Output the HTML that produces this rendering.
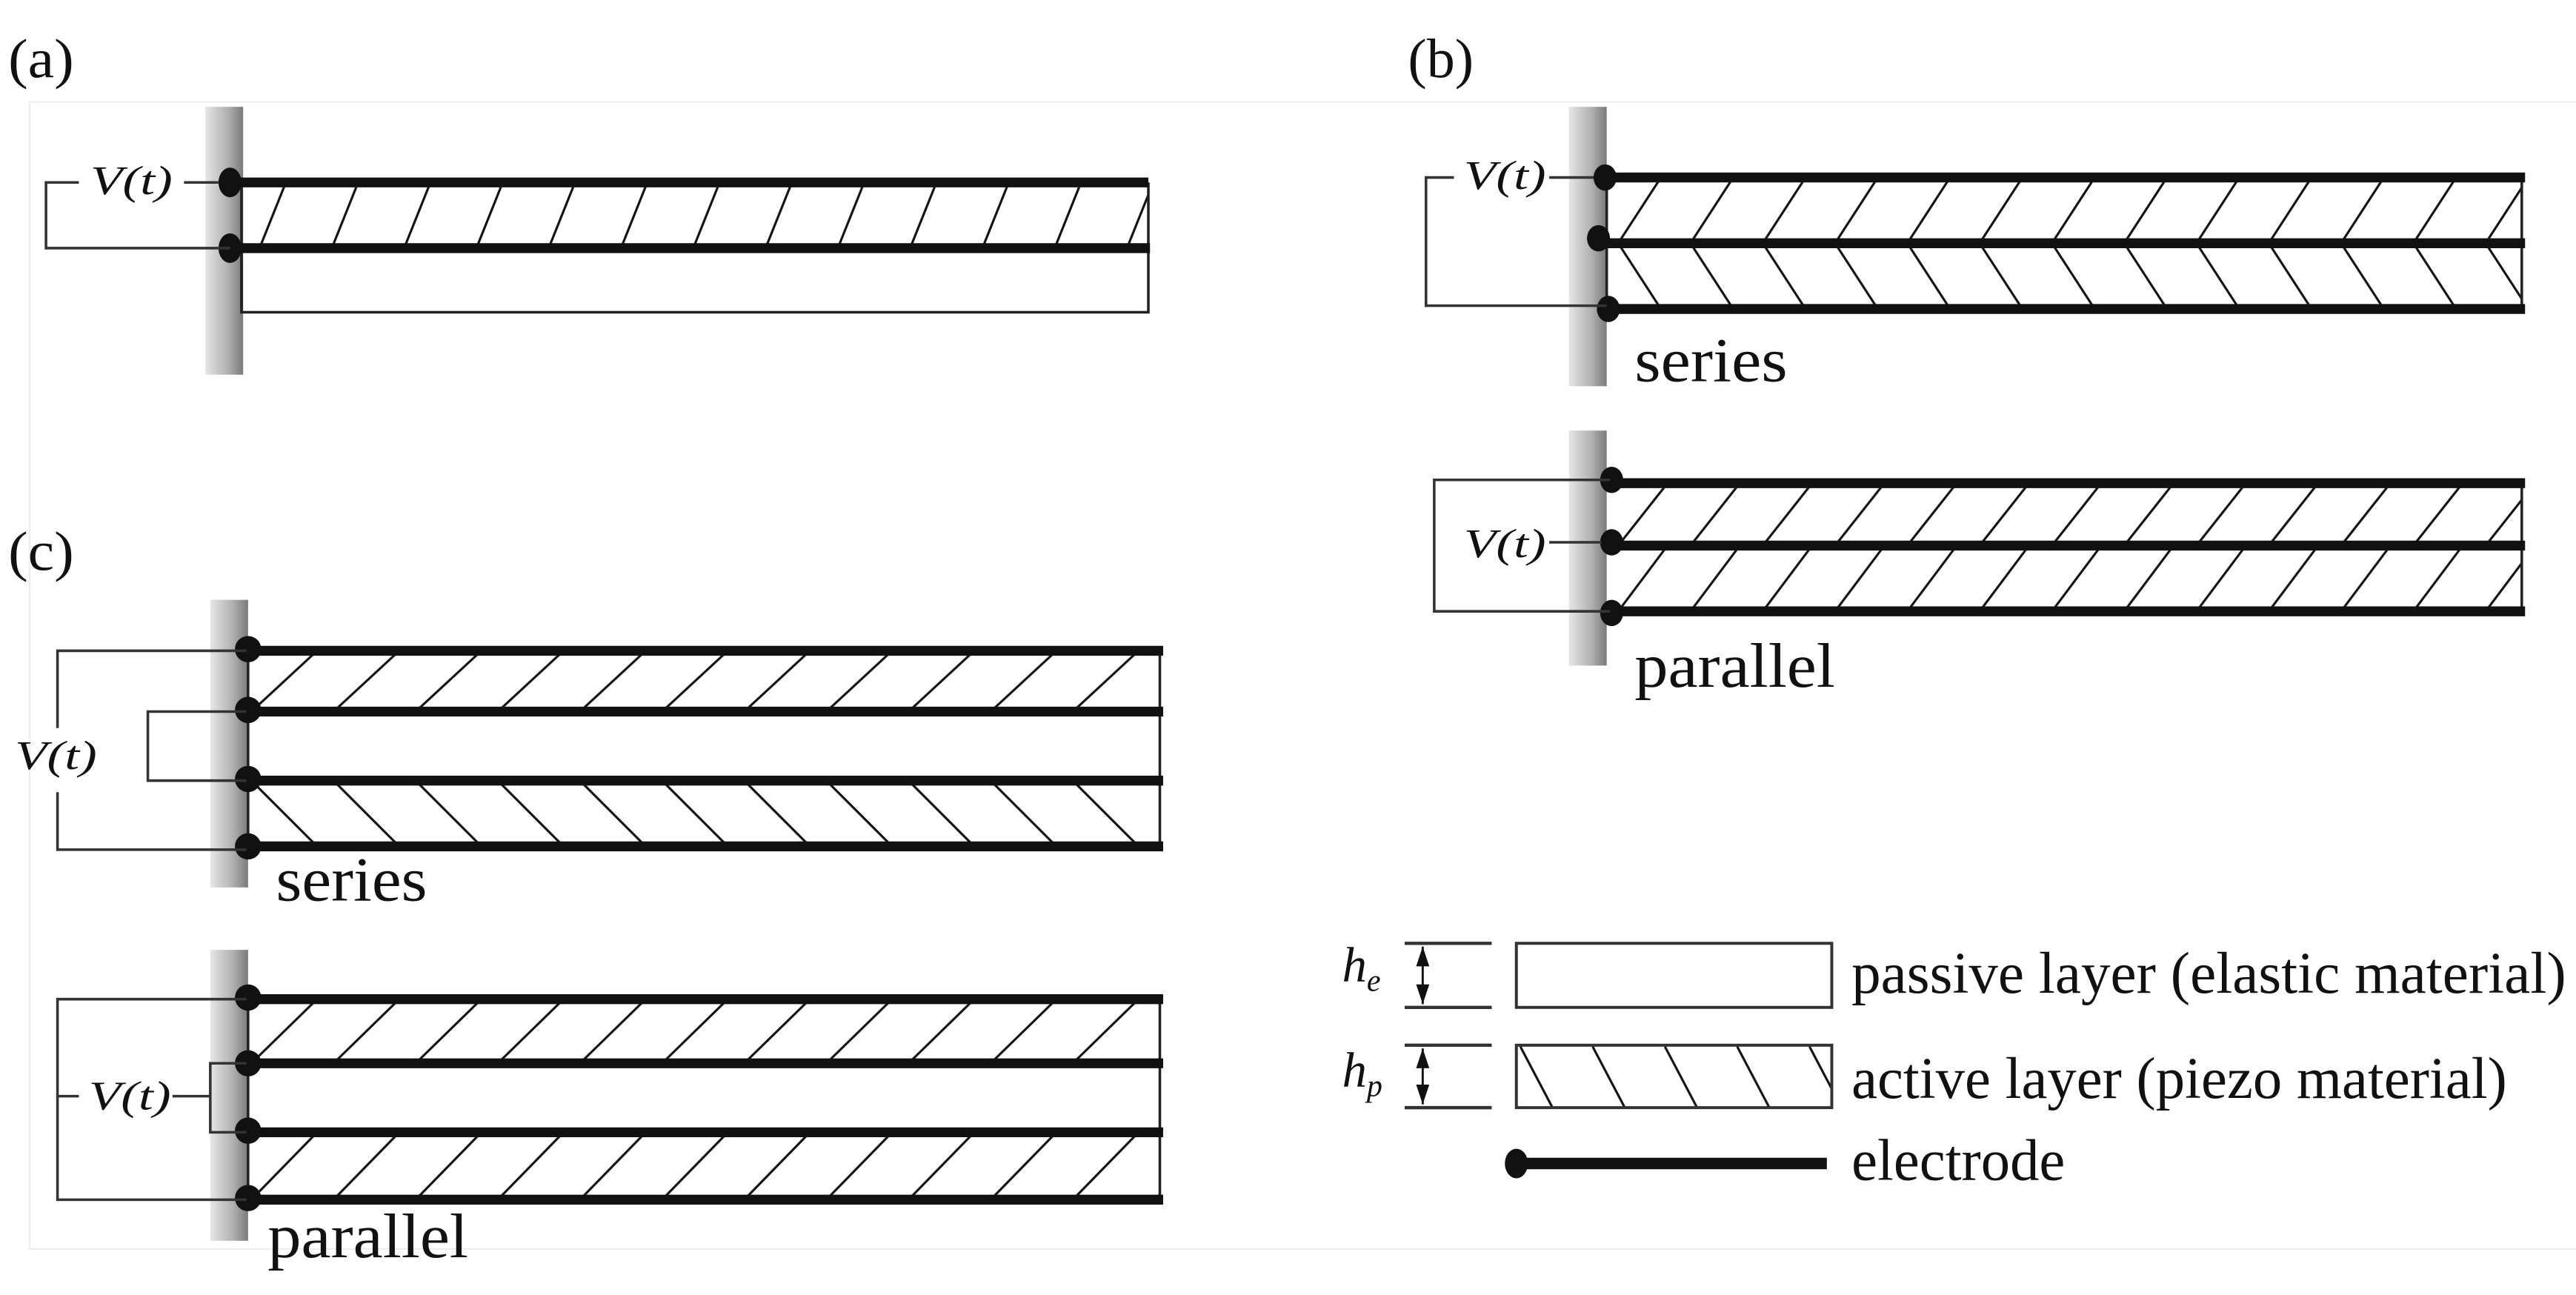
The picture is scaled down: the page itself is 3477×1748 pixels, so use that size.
<!DOCTYPE html>
<html><head><meta charset="utf-8"><style>html,body{margin:0;padding:0;background:#fff}svg{display:block}</style></head>
<body>
<svg xmlns="http://www.w3.org/2000/svg" width="3477" height="1748" viewBox="0 0 1568 788" preserveAspectRatio="none" font-family="'Liberation Serif', serif">
<defs>
<linearGradient id="wall" x1="0" x2="1" y1="0" y2="0">
<stop offset="0" stop-color="#e6e6e6"/><stop offset="0.6" stop-color="#b0b0b0"/><stop offset="1" stop-color="#7a7a7a"/></linearGradient>
<pattern id="pa" patternUnits="userSpaceOnUse" width="44" height="40" patternTransform="translate(158,111)"><path d="M0,40 L16,0" stroke="#111" stroke-width="1.4" fill="none"/></pattern>
<pattern id="pb1" patternUnits="userSpaceOnUse" width="44" height="40" patternTransform="translate(985,108)"><path d="M0,40 L26,0" stroke="#111" stroke-width="1.4"/></pattern>
<pattern id="pb2" patternUnits="userSpaceOnUse" width="44" height="40" patternTransform="translate(985,148)"><path d="M0,0 L26,40" stroke="#111" stroke-width="1.4"/></pattern>
<pattern id="pb3" patternUnits="userSpaceOnUse" width="44" height="40" patternTransform="translate(985,294)"><path d="M0,38 L30,0" stroke="#111" stroke-width="1.4"/></pattern>
<pattern id="pb4" patternUnits="userSpaceOnUse" width="44" height="40" patternTransform="translate(985,332)"><path d="M0,40 L30,0" stroke="#111" stroke-width="1.4"/></pattern>
<pattern id="pc1" patternUnits="userSpaceOnUse" width="50" height="37" patternTransform="translate(153,396)"><path d="M0,37 L40,0" stroke="#111" stroke-width="1.4"/></pattern>
<pattern id="pc2" patternUnits="userSpaceOnUse" width="50" height="40" patternTransform="translate(153,475)"><path d="M0,0 L40,40" stroke="#111" stroke-width="1.4"/></pattern>
<pattern id="pc3" patternUnits="userSpaceOnUse" width="50" height="39" patternTransform="translate(153,608)"><path d="M0,39 L40,0" stroke="#111" stroke-width="1.4"/></pattern>
<pattern id="pc4" patternUnits="userSpaceOnUse" width="50" height="41" patternTransform="translate(153,689)"><path d="M0,41 L40,0" stroke="#111" stroke-width="1.4"/></pattern>
<pattern id="pl" patternUnits="userSpaceOnUse" width="44" height="38" patternTransform="translate(925,636)"><path d="M0,0 L20,38" stroke="#111" stroke-width="1.4"/></pattern>
</defs>
<rect width="1568" height="788" fill="#fff"/>
<path d="M18,62 H1568 M18,62 V760 H1568" stroke="#eee" stroke-width="1" fill="none"/>

<g font-size="34" fill="#111">
<text x="5" y="47" textLength="40" lengthAdjust="spacingAndGlyphs">(a)</text>
<text x="857" y="47" textLength="40" lengthAdjust="spacingAndGlyphs">(b)</text>
<text x="5" y="347" textLength="40" lengthAdjust="spacingAndGlyphs">(c)</text>
</g>

<!-- (a) -->
<rect x="125" y="65" width="23" height="163" fill="url(#wall)"/>
<rect x="147" y="111" width="552" height="40" fill="url(#pa)"/>
<rect x="147" y="151" width="552" height="39" fill="none" stroke="#222" stroke-width="1.6"/>
<line x1="147" y1="111" x2="147" y2="190" stroke="#222" stroke-width="1.6"/>
<line x1="699" y1="111" x2="699" y2="151" stroke="#222" stroke-width="1.6"/>
<line x1="140" y1="111" x2="699" y2="111" stroke="#111" stroke-width="6"/>
<line x1="140" y1="151" x2="700" y2="151" stroke="#111" stroke-width="6"/>
<ellipse cx="140" cy="111" rx="7" ry="9" fill="#111"/><ellipse cx="140" cy="151" rx="7" ry="9" fill="#111"/>
<path d="M112,111 H133 M48,111 H28 V151 H140" stroke="#333" stroke-width="1.6" fill="none"/>
<text x="55" y="118" font-size="25" font-style="italic" fill="#111" textLength="50" lengthAdjust="spacingAndGlyphs">V(t)</text>

<!-- (b) series -->
<rect x="955" y="65" width="23" height="170" fill="url(#wall)"/>
<rect x="978" y="108" width="557" height="40" fill="url(#pb1)"/>
<rect x="978" y="148" width="557" height="40" fill="url(#pb2)"/>
<line x1="1535" y1="108" x2="1535" y2="188" stroke="#222" stroke-width="1.6"/>
<line x1="978" y1="108" x2="978" y2="188" stroke="#222" stroke-width="1.6"/>
<g stroke="#111" stroke-width="6"><line x1="978" y1="108" x2="1537" y2="108"/><line x1="978" y1="148" x2="1537" y2="148"/><line x1="978" y1="188" x2="1537" y2="188"/></g>
<ellipse cx="977" cy="108" rx="7" ry="8" fill="#111"/><ellipse cx="973" cy="145" rx="7" ry="8" fill="#111"/><ellipse cx="979" cy="188" rx="7" ry="8" fill="#111"/>
<path d="M943,108 H970 M885,108 H868 V186 H978" stroke="#333" stroke-width="1.6" fill="none"/>
<text x="891" y="115" font-size="25" font-style="italic" fill="#111" textLength="50" lengthAdjust="spacingAndGlyphs">V(t)</text>
<text x="995" y="232" font-size="38" fill="#111" textLength="93" lengthAdjust="spacingAndGlyphs">series</text>

<!-- (b) parallel -->
<rect x="955" y="262" width="23" height="143" fill="url(#wall)"/>
<rect x="978" y="294" width="557" height="38" fill="url(#pb3)"/>
<rect x="978" y="332" width="557" height="40" fill="url(#pb4)"/>
<line x1="1535" y1="294" x2="1535" y2="372" stroke="#222" stroke-width="1.6"/>
<g stroke="#111" stroke-width="6"><line x1="980" y1="294" x2="1537" y2="294"/><line x1="980" y1="332" x2="1537" y2="332"/><line x1="980" y1="372" x2="1537" y2="372"/></g>
<ellipse cx="981" cy="292" rx="7" ry="8" fill="#111"/><ellipse cx="981" cy="330" rx="7" ry="8" fill="#111"/><ellipse cx="981" cy="373" rx="7" ry="8" fill="#111"/>
<path d="M980,292 H873 V372 H980 M943,330 H975" stroke="#333" stroke-width="1.6" fill="none"/>
<text x="891" y="339" font-size="25" font-style="italic" fill="#111" textLength="50" lengthAdjust="spacingAndGlyphs">V(t)</text>
<text x="995" y="418" font-size="38" fill="#111" textLength="122" lengthAdjust="spacingAndGlyphs">parallel</text>

<!-- (c) series -->
<rect x="128" y="365" width="23" height="175" fill="url(#wall)"/>
<rect x="150" y="396" width="556" height="37" fill="url(#pc1)"/>
<rect x="150" y="475" width="556" height="40" fill="url(#pc2)"/>
<line x1="706" y1="396" x2="706" y2="515" stroke="#222" stroke-width="1.6"/>
<line x1="151" y1="396" x2="151" y2="515" stroke="#222" stroke-width="1.6"/>
<g stroke="#111" stroke-width="6"><line x1="150" y1="396" x2="708" y2="396"/><line x1="150" y1="433" x2="708" y2="433"/><line x1="150" y1="475" x2="708" y2="475"/><line x1="150" y1="515" x2="708" y2="515"/></g>
<g fill="#111"><ellipse cx="151" cy="395" rx="8" ry="8"/><ellipse cx="151" cy="432" rx="8" ry="8"/><ellipse cx="151" cy="474" rx="8" ry="8"/><ellipse cx="151" cy="515" rx="8" ry="8"/></g>
<path d="M150,396 H35 V443 M35,482 V517 H150 M150,433 H90 V475 H150" stroke="#333" stroke-width="1.6" fill="none"/>
<text x="9" y="468" font-size="25" font-style="italic" fill="#111" textLength="50" lengthAdjust="spacingAndGlyphs">V(t)</text>
<text x="168" y="548" font-size="38" fill="#111" textLength="92" lengthAdjust="spacingAndGlyphs">series</text>

<!-- (c) parallel -->
<rect x="128" y="578" width="23" height="177" fill="url(#wall)"/>
<rect x="150" y="608" width="556" height="39" fill="url(#pc3)"/>
<rect x="150" y="689" width="556" height="41" fill="url(#pc4)"/>
<line x1="706" y1="608" x2="706" y2="730" stroke="#222" stroke-width="1.6"/>
<line x1="151" y1="608" x2="151" y2="730" stroke="#222" stroke-width="1.6"/>
<g stroke="#111" stroke-width="6"><line x1="150" y1="608" x2="708" y2="608"/><line x1="150" y1="647" x2="708" y2="647"/><line x1="150" y1="689" x2="708" y2="689"/><line x1="150" y1="730" x2="708" y2="730"/></g>
<g fill="#111"><ellipse cx="151" cy="607" rx="8" ry="8"/><ellipse cx="151" cy="647" rx="8" ry="8"/><ellipse cx="151" cy="688" rx="8" ry="8"/><ellipse cx="151" cy="729" rx="8" ry="8"/></g>
<path d="M150,608 H35 V730 H150 M35,667 H48 M105,667 H128 M150,647 H128 V689 H150" stroke="#333" stroke-width="1.6" fill="none"/>
<text x="54" y="675" font-size="25" font-style="italic" fill="#111" textLength="50" lengthAdjust="spacingAndGlyphs">V(t)</text>
<text x="163" y="765" font-size="38" fill="#111" textLength="122" lengthAdjust="spacingAndGlyphs">parallel</text>

<!-- legend -->
<g stroke="#333" stroke-width="2" fill="none">
<path d="M855,574 H908 M855,613 H908 M855,636 H908 M855,674 H908"/>
<rect x="923" y="574" width="192" height="39" stroke-width="1.8"/>
<rect x="923" y="636" width="192" height="38" fill="url(#pl)" stroke-width="1.8"/>
<path d="M866,576 V611 M866,638 V672" stroke="#111" stroke-width="1.3"/>
</g>
<g fill="#111">
<path d="M862,588 L866,576 L870,588 Z M862,599 L866,611 L870,599 Z"/>
<path d="M862,650 L866,638 L870,650 Z M862,660 L866,672 L870,660 Z"/>
</g>
<text x="817" y="597" font-size="30" font-style="italic" fill="#111">h<tspan font-size="19" dy="6">e</tspan></text>
<text x="817" y="661" font-size="30" font-style="italic" fill="#111">h<tspan font-size="19" dy="6">p</tspan></text>
<text x="1127" y="604" font-size="36" fill="#111" textLength="435" lengthAdjust="spacingAndGlyphs">passive layer (elastic material)</text>
<text x="1127" y="668" font-size="36" fill="#111" textLength="399" lengthAdjust="spacingAndGlyphs">active layer (piezo material)</text>
<line x1="923" y1="708" x2="1112" y2="708" stroke="#111" stroke-width="7"/>
<ellipse cx="923" cy="708" rx="7" ry="9" fill="#111"/>
<text x="1127" y="718" font-size="36" fill="#111" textLength="130" lengthAdjust="spacingAndGlyphs">electrode</text>
</svg>
</body></html>
